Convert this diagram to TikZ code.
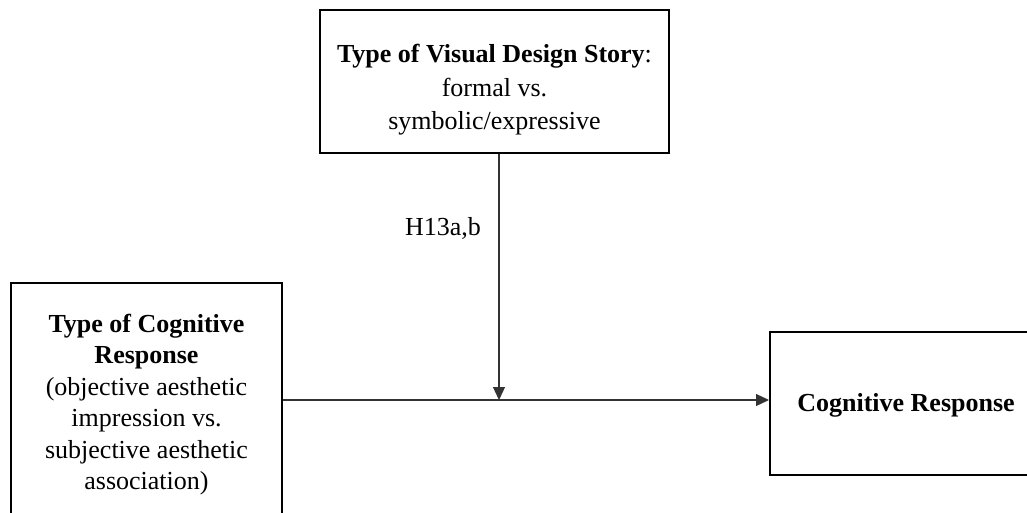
\documentclass[tikz,border=0pt]{standalone}
\usepackage{fontspec}
\setmainfont{Liberation Serif}
\usetikzlibrary{arrows.meta}
\begin{document}
\begin{tikzpicture}[x=1pt,y=-1pt,
  box/.style={draw=black,line width=2pt,inner sep=0pt},
  txt/.style={align=center,inner sep=0pt,font=\fontsize{26}{31.5}\selectfont},
  conn/.style={line width=1.2pt,draw=black!80,-{Triangle[length=13pt,width=12pt]}},
  lbl/.style={font=\fontsize{26}{31.5}\selectfont,inner sep=0pt}]
\useasboundingbox (0,0) rectangle (1027,513);
\clip (0,0) rectangle (1027,513);
\node[box,minimum width=349pt,minimum height=143pt] (design) at (494.5,81.5) {};
\node[txt,font=\fontsize{26}{33.5}\selectfont] (designtxt) at (494.5,90)
  {\textbf{Type of Visual Design Story}:\\formal vs.\\symbolic/expressive};
\node[box,minimum width=271pt,minimum height=238pt] (type) at (146.5,402) {};
\node[txt] (typetxt) at (146.5,404.5)
  {\textbf{Type of Cognitive}\\\textbf{Response}\\(objective aesthetic\\impression vs.\\subjective aesthetic\\association)};
\node[box,minimum width=272pt,minimum height=143pt] (resp) at (906,403.5) {};
\node[txt] (resptxt) at (906,405) {\textbf{Cognitive Response}};
\coordinate (m) at (499,400);
\draw[conn] (type.east |- m) -- (resp.west |- m);
\draw[conn] (design.south -| m) -- (m);
\node[lbl] (h) at (443,228) {H13a,b};
\end{tikzpicture}
\end{document}
